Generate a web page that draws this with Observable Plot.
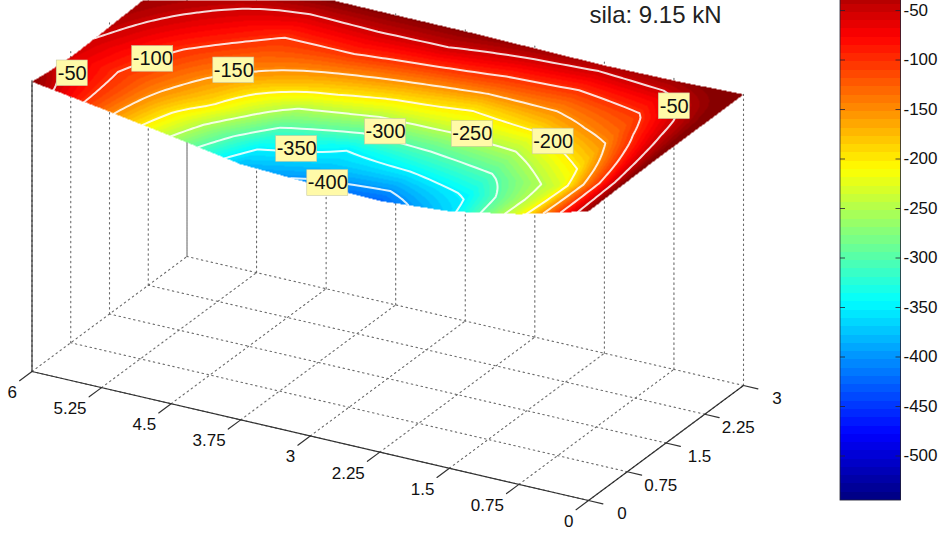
<!DOCTYPE html>
<html><head><meta charset="utf-8">
<style>html,body{margin:0;padding:0;background:#fff;overflow:hidden}svg{display:block}</style>
<script src="https://cdn.jsdelivr.net/npm/d3@7"></script>
<script src="https://cdn.jsdelivr.net/npm/@observablehq/plot@0.6"></script>
</head><body><div id="chart"></div>
<script>
// ---- data: surface heights, one list per x grid line
const xGrid = [0, 0.75, 1.5, 2.25, 3, 3.75, 4.5, 5.25, 6];
const yGrid = [0, 0.375, 0.75, 1.125, 1.5, 1.875, 2.25, 2.625, 3];
const zAtX0    = [-20, -15, -10, -5, -3, -3, -3, -2, 0];
const zAtX075  = [-222, -228, -232, -200, -165, -132, -108, -72, -25];
const zAtX15   = [-364, -345, -308, -268, -225, -173, -132, -86, -35];
const zAtX225  = [-425, -378, -328, -283, -231, -192, -126, -77, -25];
const zAtX3    = [-408, -372, -347, -285, -225, -168, -110, -55, -15];
const zAtX375  = [-378, -345, -302, -252, -190, -143, -93, -53, -15];
const zAtX45   = [-250, -228, -191, -170, -144, -120, -97, -58, -12];
const zAtX525  = [-128, -122, -120, -109, -97, -77, -57, -38, -10];
const zAtX6    = [-15, -42, -58, -53, -42, -32, -22, -12, 0];
const surface = [zAtX0, zAtX075, zAtX15, zAtX225, zAtX3, zAtX375, zAtX45, zAtX525, zAtX6];

const contourLevels = [-400, -350, -300, -250, -200, -150, -100, -50];
const labelLevel = [-50, -100, -150, -350, -400, -300, -250, -200, -50];
const labelX     = [5.80, 5.35, 4.61, 3.43, 2.85, 2.84, 2.05, 1.25, 0.49];
const labelY     = [0.42, 1.17, 1.41, 0.51, 0.07, 1.17, 1.43, 1.56, 2.54];

const xTicks = [0, 0.75, 1.5, 2.25, 3, 3.75, 4.5, 5.25, 6];
const yTicks = [0, 0.75, 1.5, 2.25, 3];
const barTicks = [-50, -100, -150, -200, -250, -300, -350, -400, -450, -500];
const barDomain = [-545, -10];
const titleText = "sila: 9.15 kN";

// ---- view of the box: parallel projection of (x, y, z) to the page
const view = {ox: 588, oy: 500, xx: -92.75, xy: -21.5, yx: 51.67, yy: -38.33, zk: 0.0939, zFloor: -3100};
const det = view.xx * view.yy - view.yx * view.xy;
const px = (x, y) => view.ox + view.xx * x + view.yx * y;
const py = (x, y, z) => view.oy + view.xy * x + view.yy * y - view.zk * (z - view.zFloor);

const dx = xGrid[1], dy = yGrid[1];
function zAt(x, y) {
  const fi = Math.min(Math.max(x / dx, 0), xGrid.length - 1.0001), fj = Math.min(Math.max(y / dy, 0), yGrid.length - 1.0001);
  const i = Math.floor(fi), j = Math.floor(fj), u = fi - i, v = fj - j;
  return (1 - u) * (1 - v) * surface[i][j] + u * (1 - v) * surface[i + 1][j]
       + (1 - u) * v * surface[i][j + 1] + u * v * surface[i + 1][j + 1];
}
// page point -> surface height, NaN outside the surface
function surfaceAtPage(sx, sy) {
  if (sy > 240) return NaN;
  let z = -150, x = 0, y = 0;
  for (let k = 0; k < 16; k++) {
    const a = sx - view.ox, b = sy - view.oy + view.zk * (z - view.zFloor);
    x = (a * view.yy - b * view.yx) / det;
    y = (b * view.xx - a * view.xy) / det;
    z = 0.5 * z + 0.5 * zAt(x, y);
  }
  return (x < 0 || x > 6 || y < 0 || y > 3) ? NaN : zAt(x, y);
}

// ---- jet colour map, 64 steps
const clamp01 = t => Math.max(0, Math.min(1, t));
const jet = d3.range(64).map(i => {
  const t = (i + 0.5) / 64;
  return d3.rgb(255 * clamp01(1.5 - Math.abs(4 * t - 3)), 255 * clamp01(1.5 - Math.abs(4 * t - 2)), 255 * clamp01(1.5 - Math.abs(4 * t - 1))).formatHex();
});

// ---- contour lines on a refined copy of the grid
const f = 8, nx = (xGrid.length - 1) * f + 1, ny = (yGrid.length - 1) * f + 1;
const fine = new Float64Array(nx * ny);
for (let j = 0; j < ny; j++) for (let i = 0; i < nx; i++) fine[i + j * nx] = zAt(i / f * dx, j / f * dy);
const contourPts = [];
let lineId = 0;
for (const c of d3.contours().size([nx, ny]).thresholds(contourLevels)(fine)) {
  for (const poly of c.coordinates) for (const ring of poly) {
    lineId++;
    for (const [cx, cy] of ring) {
      if (cx < 0.5 || cx > nx - 0.5 || cy < 0.5 || cy > ny - 0.5) { lineId++; continue; }
      const x = (cx - 0.5) / f * dx, y = (cy - 0.5) / f * dy;
      contourPts.push({id: lineId, sx: px(x, y), sy: py(x, y, c.value)});
    }
  }
}

// ---- tables for the marks
const ceilZ = 0;
const seg = (a, b) => [{sx: px(a[0], a[1]), sy: py(a[0], a[1], a[2]), k: a.join() + b.join()}, {sx: px(b[0], b[1]), sy: py(b[0], b[1], b[2]), k: a.join() + b.join()}];
const Zf = view.zFloor;
const gridSegs = [
  ...xTicks.flatMap(x => seg([x, 0, Zf], [x, 3, Zf])),
  ...yTicks.flatMap(y => seg([0, y, Zf], [6, y, Zf])),
  ...xTicks.flatMap(x => seg([x, 3, Zf], [x, 3, ceilZ])),
  ...yTicks.flatMap(y => seg([6, y, Zf], [6, y, ceilZ]))
];
const axisSegs = [
  ...seg([6, 0, Zf], [0, 0, Zf]),
  ...seg([0, 0, Zf], [0, 3, Zf]),
  ...seg([6, 0, Zf], [6, 0, -15]),
  ...xTicks.flatMap(x => seg([x, 0, Zf], [x, -0.24, Zf])),
  ...yTicks.flatMap(y => seg([0, y, Zf], [-0.155, y, Zf]))
];
const labels = labelLevel.map((lv, i) => {
  const sx = px(labelX[i], labelY[i]), sy = py(labelX[i], labelY[i], lv);
  return {text: String(lv), sx, sy, hw: String(lv).length > 3 ? 20.5 : 15.5};
});
const barY = v => 10 + 0.99 * (-50 - v);
const barStep = (barDomain[1] - barDomain[0]) / 64;
const barCells = d3.range(64).map(i => ({v: barDomain[0] + (i + 0.5) * barStep, v1: barDomain[0] + i * barStep, v2: barDomain[0] + (i + 1) * barStep}));
const font = {fontFamily: "Liberation Sans, Arial, sans-serif", fill: "#111", fontSize: 17};
const barLeft = 840, barRight = 900.5;

const chart = Plot.plot({
  width: 945, height: 536, margin: 0,
  x: {domain: [0, 945], range: [0, 945], axis: null},
  y: {domain: [0, 536], range: [0, 536], axis: null},
  color: {type: "quantize", domain: barDomain, range: jet},
  style: {background: "#fff"},
  marks: [
    Plot.line(gridSegs, {x: "sx", y: "sy", z: "k", stroke: "#6a6a6a", strokeWidth: 1.1, strokeDasharray: "1.5 3.5"}),
    Plot.raster({x1: 0, y1: 0, x2: 945, y2: 536, fill: surfaceAtPage, imageRendering: "auto"}),
    Plot.line(axisSegs, {x: "sx", y: "sy", z: "k", stroke: "#333", strokeWidth: 1.2}),
    Plot.line(contourPts, {x: "sx", y: "sy", z: "id", stroke: "#fff", strokeWidth: 2, strokeOpacity: 0.85, curve: "linear"}),
    Plot.rect(labels, {x1: d => d.sx - d.hw, x2: d => d.sx + d.hw, y1: d => d.sy - 12.8, y2: d => d.sy + 12.8, fill: "#fffaa8", stroke: "#c8c8a0", strokeWidth: 0.6}),
    Plot.text(labels, {x: "sx", y: "sy", text: "text", ...font, fontSize: 20}),
    // tick labels
    Plot.text(xTicks, {x: d => px(d, 0) - 15, y: d => py(d, 0, Zf) + 21, text: d => String(d), textAnchor: "end", ...font}),
    Plot.text(yTicks, {x: d => px(0, d) + 33.5, y: d => py(0, d, Zf) + 13.5, text: d => String(d), ...font}),
    // colour bar
    Plot.rect(barCells, {x1: barLeft, x2: barRight, y1: d => barY(d.v2), y2: d => barY(d.v1), fill: "v", shapeRendering: "crispEdges"}),
    Plot.rect([0], {x1: barLeft, x2: barRight, y1: barY(barDomain[1]), y2: barY(barDomain[0]), stroke: "#223", strokeWidth: 0.8, fill: "none"}),
    Plot.ruleY(barTicks, {x1: barLeft, x2: barLeft + 5, y: barY, stroke: "#223", strokeWidth: 0.8}),
    Plot.ruleY(barTicks, {x1: barRight - 5, x2: barRight, y: barY, stroke: "#223", strokeWidth: 0.8}),
    Plot.text(barTicks, {x: barRight + 2.5, y: barY, text: d => String(d), textAnchor: "start", ...font}),
    // title
    Plot.text([titleText], {x: 655, y: 15, text: d => d, ...font, fontSize: 24, fill: "#222"})
  ]
});
document.getElementById("chart").append(chart);
</script></body></html>
